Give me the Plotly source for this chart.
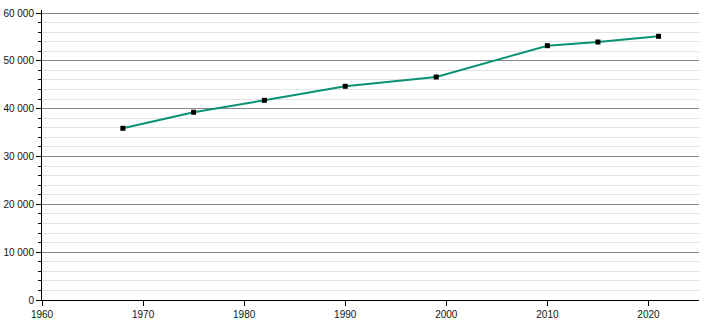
import plotly.graph_objects as go

years = [1968, 1975, 1982, 1990, 1999, 2010, 2015, 2021]
population = [35900, 39250, 41750, 44680, 46620, 53170, 53940, 55130]
y_ticks = [0, 10000, 20000, 30000, 40000, 50000, 60000]
y_tick_labels = ["0", "10 000", "20 000", "30 000", "40 000", "50 000", "60 000"]
x_ticks = [1960, 1970, 1980, 1990, 2000, 2010, 2020]

fig = go.Figure()
fig.add_trace(go.Scatter(
    x=years, y=population, mode="lines+markers",
    line=dict(color="#0b9272", width=2),
    marker=dict(symbol="square", size=5, color="black"),
    hoverinfo="x+y",
))
fig.update_layout(
    width=710, height=320,
    margin=dict(l=42, r=11, t=10, b=20),
    paper_bgcolor="white", plot_bgcolor="white",
    showlegend=False,
    font=dict(family="Liberation Sans, Arial, sans-serif", size=10, color="#111"),
    xaxis=dict(
        range=[1960, 2025], tickvals=x_ticks, showgrid=False, zeroline=False,
        showline=True, linecolor="black", linewidth=1, automargin=False,
        ticks="outside", ticklen=5, tickcolor="black",
    ),
    yaxis=dict(
        range=[0, 60630], tickvals=y_ticks, ticktext=y_tick_labels,
        showgrid=True, gridcolor="#888888", gridwidth=1, zeroline=False,
        showline=True, linecolor="black", linewidth=1, automargin=False,
        ticks="outside", ticklen=5, tickcolor="black",
        minor=dict(dtick=2000, showgrid=True, gridcolor="#e3e3e3",
                   ticks="outside", ticklen=3, tickcolor="black"),
    ),
)
fig.write_html("out.html")
